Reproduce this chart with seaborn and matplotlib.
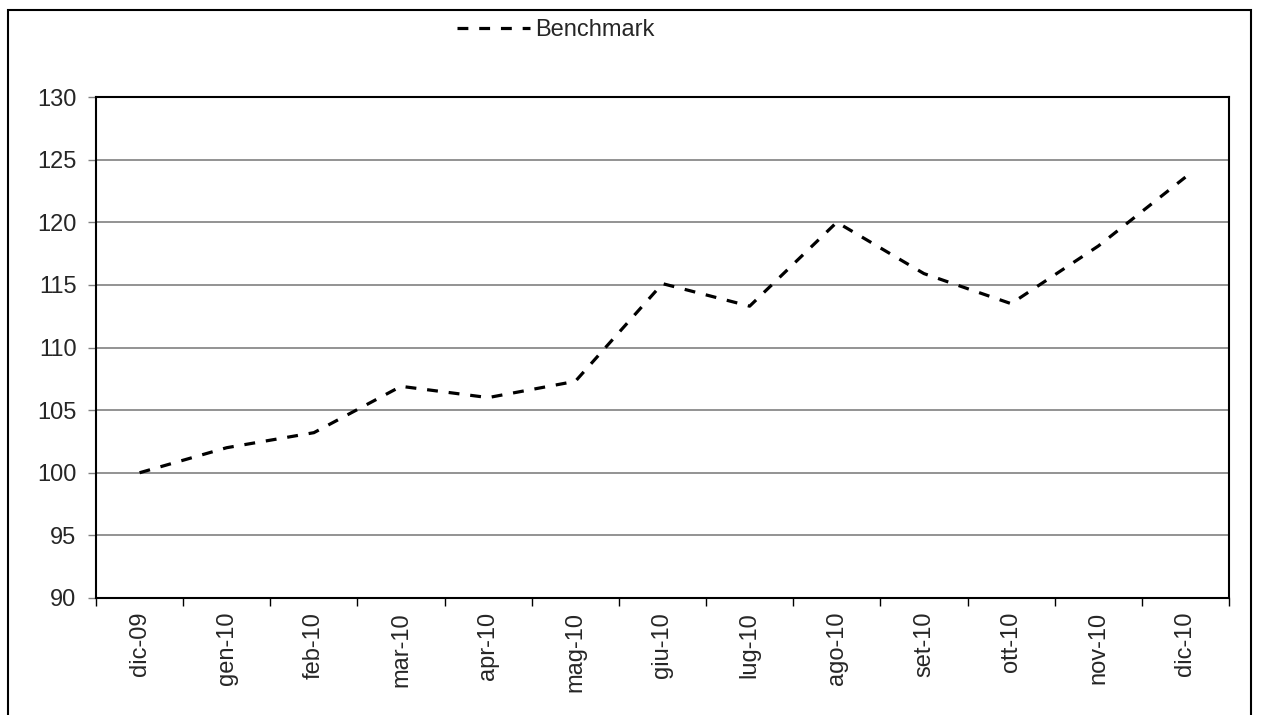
import matplotlib
matplotlib.use("Agg")
import matplotlib.pyplot as plt
import matplotlib.patches as mpatches
import seaborn as sns
import pandas as pd
import numpy as np

months = ["dic-09", "gen-10", "feb-10", "mar-10", "apr-10", "mag-10", "giu-10",
          "lug-10", "ago-10", "set-10", "ott-10", "nov-10", "dic-10"]
benchmark = [100.0, 102.0, 103.2, 106.9, 106.0, 107.3, 115.1, 113.3, 120.0,
             115.9, 113.5, 118.1, 123.6]
yticks = [90, 95, 100, 105, 110, 115, 120, 125, 130]

sns.set_theme(style="white")
plt.rcParams['font.family'] = ['Liberation Sans', 'DejaVu Sans']

FS = 17
W, H = 1261, 715
fig = plt.figure(figsize=(W / 100, H / 100), dpi=100)
ax = fig.add_axes([96 / W, 1 - 598 / H, (1229 - 96) / W, (598 - 97) / H])

df = pd.DataFrame({"idx": np.arange(len(months)), "Benchmark": benchmark})
sns.lineplot(data=df, x="idx", y="Benchmark", ax=ax, color="black",
             linewidth=2.3, dashes=False, legend=False)
line = ax.lines[0]
line.set_dashes((3.4, 3.4))

ax.set_xlim(-0.5, len(months) - 0.5)
ax.set_ylim(90, 130)
ax.set_yticks(yticks)
ax.set_yticklabels([str(v) for v in yticks], fontsize=FS)
ax.set_xticks(np.arange(len(months)))
ax.set_xticklabels(months, rotation=90, fontsize=FS)
ax.set_xticks(np.arange(len(months) + 1) - 0.5, minor=True)
ax.tick_params(axis="x", which="major", length=0, pad=10)
ax.tick_params(axis="x", which="minor", length=6, width=1, color="black", direction="out", bottom=True)
ax.tick_params(axis="y", which="major", length=5.5, width=1, color="#808080", direction="out", left=True, pad=8.5)
ax.set_xlabel("")
ax.set_ylabel("")
ax.yaxis.grid(True, color="#808080", linewidth=1.2)
ax.xaxis.grid(False)
for s in ["left", "bottom", "right", "top"]:
    ax.spines[s].set_visible(True)
    ax.spines[s].set_color("black")
    ax.spines[s].set_linewidth(1.5)

handle = plt.Line2D([], [], color="black", linewidth=2.3, dashes=(3.4, 3.4))
fig.legend([handle], ["Benchmark"], loc="center left",
           bbox_to_anchor=(457 / W, 1 - 30 / H), frameon=False, fontsize=FS,
           handlelength=3.1, handletextpad=0.2, borderpad=0, borderaxespad=0)

frame = mpatches.Rectangle((8 / W, -0.05), (1251 - 8) / W, 1 - 10 / H + 0.05,
                           transform=fig.transFigure, fill=False,
                           edgecolor="black", linewidth=1.5, clip_on=False)
fig.patches.append(frame)

fig.savefig("out.png", dpi=100)
